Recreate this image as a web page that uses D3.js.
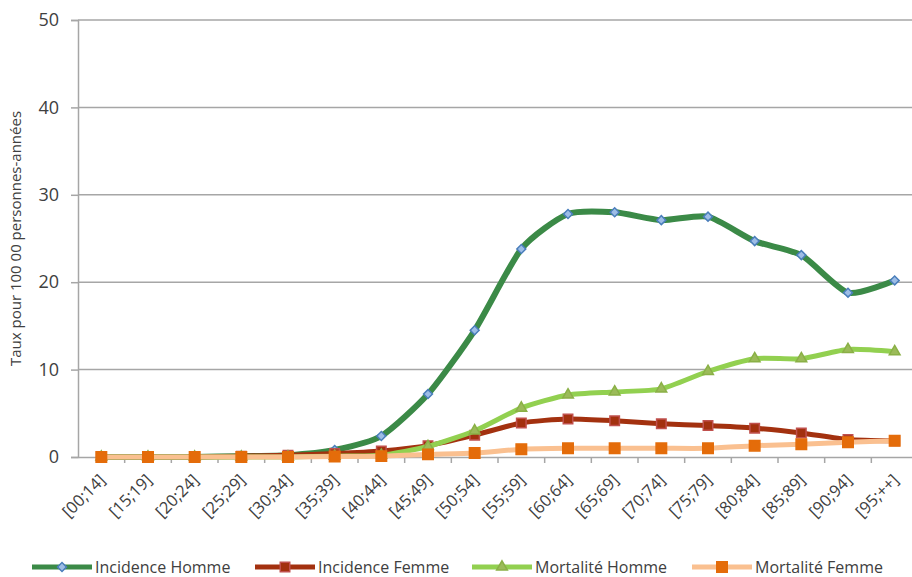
<!DOCTYPE html>
<html>
<head>
<meta charset="utf-8">
<script src="https://cdn.jsdelivr.net/npm/d3@7"></script>
<style>
  body { margin: 0; background: #fff; }
  text { font-family: "Open Sans", sans-serif; fill: #404040; }
</style>
</head>
<body>
<svg id="chart" width="912" height="577"></svg>
<script>
const ageGroups = ["[00;14]", "[15;19]", "[20;24]", "[25;29]", "[30;34]", "[35;39]", "[40;44]", "[45;49]", "[50;54]",
  "[55;59]", "[60;64]", "[65;69]", "[70;74]", "[75;79]", "[80;84]", "[85;89]", "[90;94]", "[95;++]"];

const incidenceHomme = [0, 0, 0, 0.1, 0.2, 0.8, 2.4, 7.2, 14.5, 23.8, 27.8, 28.0, 27.1, 27.5, 24.7, 23.1, 18.8, 20.2];
const incidenceFemme = [0, 0, 0, 0.1, 0.2, 0.4, 0.7, 1.3, 2.5, 3.9, 4.35, 4.15, 3.8, 3.6, 3.3, 2.75, 2.0, 1.85];
const mortaliteHomme = [0, 0, 0, 0, 0, 0.1, 0.2, 1.2, 3.0, 5.6, 7.1, 7.45, 7.8, 9.8, 11.25, 11.25, 12.3, 12.05];
const mortaliteFemme = [0, 0, 0, 0, 0, 0.05, 0.1, 0.3, 0.45, 0.9, 1.0, 1.0, 1.0, 1.0, 1.3, 1.45, 1.7, 1.85];

const yTicks = [0, 10, 20, 30, 40, 50];

// marker: symbol type, rotation in degrees
const series = [
  { name: "Incidence Homme", values: incidenceHomme, line: "#3b8a47", width: 6, marker: "square", rot: 45, fill: "#9dbde6", stroke: "#4a7ebb", size: 40 },
  { name: "Incidence Femme", values: incidenceFemme, line: "#a3310f", width: 5, marker: "square", rot: 0, fill: "#a3310f", stroke: "#c0504d", size: 90 },
  { name: "Mortalité Homme", values: mortaliteHomme, line: "#92d050", width: 5, marker: "triangle", rot: 0, fill: "#9bbb59", stroke: "#8ab046", size: 50 },
  { name: "Mortalité Femme", values: mortaliteFemme, line: "#fac090", width: 5, marker: "square", rot: 0, fill: "#e46c0a", stroke: "#e46c0a", size: 110 }
];

const svg = d3.select("#chart");
const mLeft = 78, mRight = 918, mTop = 20, mBottom = 457;

const x = d3.scaleBand().domain(ageGroups).range([mLeft, mRight]);
const y = d3.scaleLinear().domain([0, 50]).range([mBottom, mTop]);
const cx = d => x(d) + x.bandwidth() / 2;

// grid lines
svg.append("g").selectAll("line")
  .data(yTicks.filter(d => d > 0))
  .join("line")
  .attr("x1", mLeft).attr("x2", mRight)
  .attr("y1", d => y(d)).attr("y2", d => y(d))
  .attr("stroke", "#a6a6a6").attr("stroke-width", 1.5);

// y axis
const yAxis = svg.append("g")
  .attr("transform", `translate(${mLeft},0)`)
  .call(d3.axisLeft(y).tickValues(yTicks).tickSize(7).tickPadding(12));
yAxis.select(".domain").attr("stroke", "#a6a6a6").attr("stroke-width", 1.5);
yAxis.selectAll(".tick line").attr("stroke", "#a6a6a6").attr("stroke-width", 1.5);
yAxis.selectAll(".tick text").style("font-family", "Open Sans").style("font-size", "18px").attr("fill", "#333");

// x axis
const xAxis = svg.append("g")
  .attr("transform", `translate(0,${mBottom})`)
  .call(d3.axisBottom(x).tickSize(0).tickFormat(""));
xAxis.select(".domain").attr("stroke", "#a6a6a6").attr("stroke-width", 1.5);
xAxis.selectAll(".tick").remove();

svg.append("g").selectAll("line")
  .data(ageGroups)
  .join("line")
  .attr("x1", d => x(d) + x.bandwidth()).attr("x2", d => x(d) + x.bandwidth())
  .attr("y1", mBottom).attr("y2", mBottom + 6)
  .attr("stroke", "#a6a6a6").attr("stroke-width", 1.5);

svg.append("g").selectAll("text")
  .data(ageGroups)
  .join("text")
  .attr("text-anchor", "end")
  .attr("transform", d => `translate(${cx(d) + 1},${mBottom + 20}) rotate(-45)`)
  .attr("dy", "0.35em")
  .style("font-size", "16.5px")
  .text(d => d);

// y axis title
svg.append("text")
  .attr("transform", `translate(21,${(mTop + mBottom) / 2}) rotate(-90)`)
  .attr("text-anchor", "middle")
  .style("font-size", "15px")
  .attr("fill", "#262626")
  .text("Taux pour 100 00 personnes-années");

const symbolType = { square: d3.symbolSquare, triangle: d3.symbolTriangle };

const line = d3.line()
  .x((d, i) => cx(ageGroups[i]))
  .y(d => y(d))
  .curve(d3.curveCardinal.tension(0.35));

series.forEach(s => {
  const g = svg.append("g");
  g.append("path")
    .attr("d", line(s.values))
    .attr("fill", "none")
    .attr("stroke", s.line)
    .attr("stroke-width", s.width)
    .attr("stroke-linejoin", "round");
  g.selectAll("path.pt")
    .data(s.values)
    .join("path")
    .attr("class", "pt")
    .attr("transform", (d, i) => `translate(${cx(ageGroups[i])},${y(d)}) rotate(${s.rot})`)
    .attr("d", d3.symbol().type(symbolType[s.marker]).size(s.size))
    .attr("fill", s.fill)
    .attr("stroke", s.stroke)
    .attr("stroke-width", 1.5);
});

// legend
const legendX = [32, 255, 472, 692];
const legend = svg.append("g").selectAll("g")
  .data(series)
  .join("g")
  .attr("transform", (d, i) => `translate(${legendX[i]},567)`);

legend.append("line")
  .attr("x1", 0).attr("x2", 60)
  .attr("stroke", d => d.line)
  .attr("stroke-width", 5);

legend.append("path")
  .attr("transform", d => `translate(30,0) rotate(${d.rot})`)
  .attr("d", d => d3.symbol().type(symbolType[d.marker]).size(d.size)())
  .attr("fill", d => d.fill)
  .attr("stroke", d => d.stroke)
  .attr("stroke-width", 1.5);

legend.append("text")
  .attr("x", 63)
  .attr("dy", "0.35em")
  .style("font-size", "16px")
  .attr("fill", "#262626")
  .text(d => d.name);
</script>
</body>
</html>
